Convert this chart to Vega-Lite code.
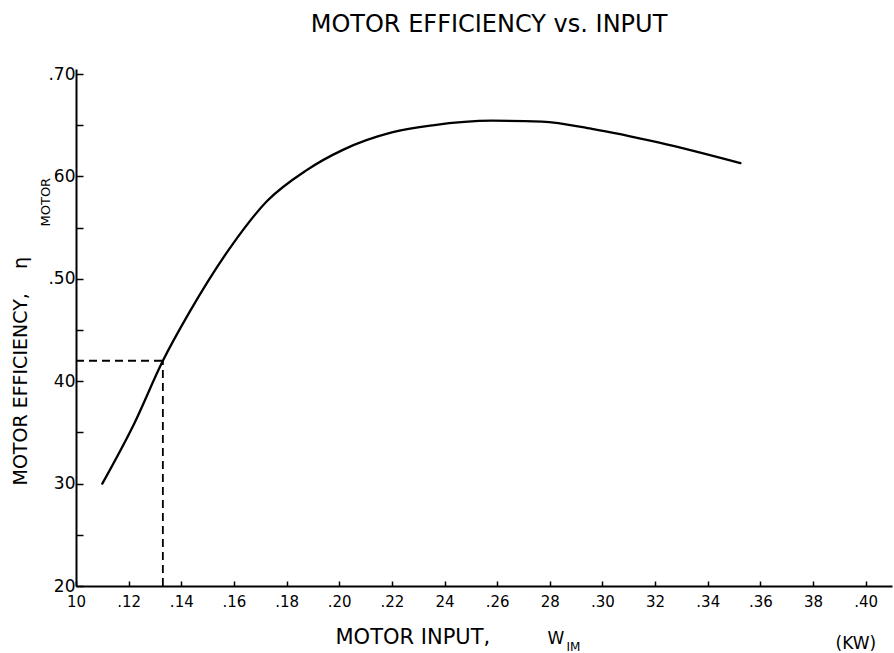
{
  "$schema": "https://vega.github.io/schema/vega-lite/v6.json",
  "width": 816,
  "height": 517,
  "autosize": {"type": "none"},
  "padding": {"left": 76, "top": 69, "right": 2, "bottom": 67},
  "background": "white",
  "title": {"text": "MOTOR EFFICIENCY vs. INPUT", "font": "DejaVu Sans", "fontSize": 24, "fontWeight": "normal", "color": "black", "anchor": "middle", "offset": 28, "dx": 5},
  "config": {
    "view": {"stroke": null},
    "axis": {"domainColor": "black", "tickColor": "black", "labelColor": "black", "titleColor": "black", "labelFont": "DejaVu Sans", "titleFont": "DejaVu Sans", "titleFontWeight": "normal", "grid": false}
  },
  "resolve": {"axis": {"x": "independent", "y": "independent"}},
  "layer": [
    {
      "data": {"values": [
        {"input": 0.110, "efficiency": 0.300},
        {"input": 0.122, "efficiency": 0.358},
        {"input": 0.133, "efficiency": 0.420},
        {"input": 0.143, "efficiency": 0.467},
        {"input": 0.159, "efficiency": 0.532},
        {"input": 0.1726, "efficiency": 0.576},
        {"input": 0.1875, "efficiency": 0.606},
        {"input": 0.2014, "efficiency": 0.626},
        {"input": 0.220, "efficiency": 0.643},
        {"input": 0.2355, "efficiency": 0.650},
        {"input": 0.258, "efficiency": 0.6545},
        {"input": 0.277, "efficiency": 0.6535},
        {"input": 0.296, "efficiency": 0.6465},
        {"input": 0.3216, "efficiency": 0.633},
        {"input": 0.3524, "efficiency": 0.613}
      ]},
      "mark": {"type": "line", "color": "black", "strokeWidth": 2.3, "interpolate": "monotone", "strokeCap": "round"},
      "encoding": {
        "x": {
          "field": "input", "type": "quantitative",
          "scale": {"domain": [0.10, 0.41], "nice": false, "zero": false},
          "axis": {
            "orient": "bottom",
            "values": [0.10, 0.12, 0.14, 0.16, 0.18, 0.20, 0.22, 0.24, 0.26, 0.28, 0.30, 0.32, 0.34, 0.36, 0.38, 0.40],
            "labelExpr": "indexof([10,24,28,32,38], round(datum.value*100)) >= 0 ? '' + round(datum.value*100) : '.' + round(datum.value*100)",
            "labelFontSize": 15, "labelPadding": 13, "labelFlush": false, "labelBaseline": "top",
            "tickSize": -5, "tickWidth": 1.5, "domainWidth": 2,
            "title": "MOTOR INPUT,", "titleFontSize": 21, "titleAlign": "left", "titleBaseline": "alphabetic",
            "titleX": 259, "titleY": 57
          }
        },
        "y": {
          "field": "efficiency", "type": "quantitative",
          "scale": {"domain": [0.20, 0.705], "nice": false, "zero": false},
          "axis": {
            "orient": "left",
            "values": [0.2, 0.25, 0.3, 0.35, 0.4, 0.45, 0.5, 0.55, 0.6, 0.65, 0.7],
            "labelExpr": "round(datum.value*100) % 10 != 0 ? '' : ((round(datum.value*100) == 70 || round(datum.value*100) == 50) ? '.' + round(datum.value*100) : '' + round(datum.value*100))",
            "labelFontSize": 17, "labelPadding": 8, "labelFlush": false,
            "tickSize": -7, "tickWidth": 1.5, "domainWidth": 2,
            "title": "MOTOR EFFICIENCY,\u00a0\u00a0\u00a0\u00a0η", "titleFontSize": 19, "titleAngle": -90, "titleAlign": "left", "titleBaseline": "alphabetic",
            "titleX": -50, "titleY": 416
          }
        }
      }
    },
    {
      "data": {"values": [{"x": 0.10, "x2": 0.133, "y": 0.42}]},
      "mark": {"type": "rule", "color": "black", "strokeWidth": 1.8, "strokeDash": [8, 5]},
      "encoding": {
        "x": {"field": "x", "type": "quantitative",
          "axis": {"orient": "top", "domain": false, "ticks": false, "labels": false, "grid": false,
            "title": "W", "titleFontSize": 17, "titleAlign": "left", "titleBaseline": "alphabetic", "titleX": 471, "titleY": 574}},
        "x2": {"field": "x2"},
        "y": {"field": "y", "type": "quantitative",
          "axis": {"orient": "right", "domain": false, "ticks": false, "labels": false, "grid": false,
            "title": "MOTOR", "titleFontSize": 13, "titleAngle": -90, "titleAlign": "left", "titleBaseline": "alphabetic", "titleX": -843, "titleY": 157}}
      }
    },
    {
      "data": {"values": [{"x": 0.133, "y": 0.20, "y2": 0.42}]},
      "mark": {"type": "rule", "color": "black", "strokeWidth": 1.8, "strokeDash": [8, 5]},
      "encoding": {
        "x": {"field": "x", "type": "quantitative",
          "axis": {"orient": "top", "domain": false, "ticks": false, "labels": false, "grid": false,
            "title": "IM", "titleFontSize": 12, "titleAlign": "left", "titleBaseline": "alphabetic", "titleX": 490, "titleY": 581}},
        "y": {"field": "y", "type": "quantitative",
          "axis": {"orient": "right", "domain": false, "ticks": false, "labels": false, "grid": false,
            "title": "(KW)", "titleFontSize": 17, "titleAngle": 0, "titleAlign": "left", "titleBaseline": "alphabetic", "titleX": -57, "titleY": 579}},
        "y2": {"field": "y2"}
      }
    }
  ]
}
